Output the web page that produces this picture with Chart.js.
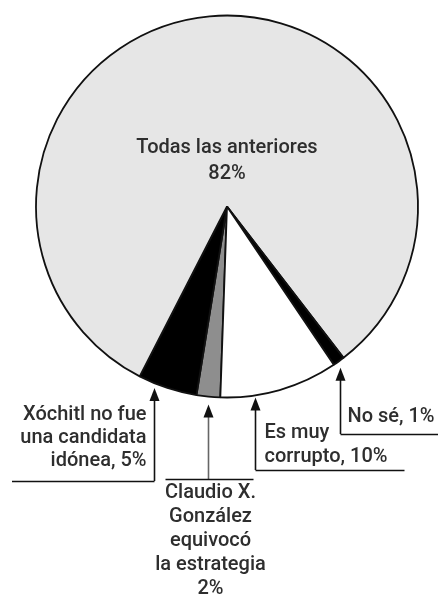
<!DOCTYPE html>
<html>
<head>
<meta charset="utf-8">
<script src="https://cdn.jsdelivr.net/npm/chart.js@4.4.1/dist/chart.umd.min.js"></script>
<style>
  html, body { margin: 0; padding: 0; background: #ffffff; }
  #wrap { width: 438px; height: 598px; }
</style>
</head>
<body>
<div id="wrap"><canvas id="c" width="438" height="598"></canvas></div>
<script>
// ---- data ----
const categories = [
  "Claudio X. González equivocó la estrategia",
  "Xóchitl no fue una candidata idónea",
  "Todas las anteriores",
  "No sé",
  "Es muy corrupto"
];
const values = [2, 5, 82, 1, 10];
const labelLines = [
  ["Claudio X.", "González", "equivocó", "la estrategia", "2%"],
  ["Xóchitl no fue", "una candidata", "idónea, 5%"],
  ["Todas las anteriores", "82%"],
  ["No sé, 1%"],
  ["Es muy", "corrupto, 10%"]
];
const sliceColors = ["#8e8e8e", "#000000", "#e6e6e6", "#000000", "#ffffff"];

// ---- annotation layout (styles / positions) ----
const FONT = '500 20px Roboto, "Liberation Sans", Arial, sans-serif';
const TEXT = '#2e2e2e';
const callouts = {
  0: { frac: 0.5,  gap: 8, lineY: 479, hx0: -43, hx1: 45, align: 'center', tx: 2, ty0: 493, lh: 24, stroke: '#666666' },
  1: { frac: 0.74, gap: 5, lineY: 481, hx0: 'left', hx1: 0, align: 'right', tx: -8, ty0: 415, lh: 23, stroke: '#111111' },
  3: { frac: 0.4,  gap: 7, lineY: 434, hx0: 0, hx1: 'right', align: 'left', tx: 7, ty0: 417, lh: 23, stroke: '#111111' },
  4: { frac: 0.71, gap: 2, lineY: 470, hx0: 0, hx1: 149, align: 'left', tx: 9, ty0: 433, lh: 24, stroke: '#111111' }
};

const annotPlugin = {
  id: 'annot',
  afterDraw(chart) {
    const ctx = chart.ctx;
    const meta = chart.getDatasetMeta(0);
    ctx.save();
    ctx.font = FONT;
    ctx.fillStyle = TEXT;
    ctx.textBaseline = 'middle';

    // centre label of the big slice
    const big = meta.data[2];
    ctx.textAlign = 'center';
    labelLines[2].forEach((t, k) => {
      ctx.fillText(t, big.x, big.y - 59 + k * 26);
    });

    Object.keys(callouts).forEach(key => {
      const i = +key;
      const c = callouts[i];
      const arc = meta.data[i];
      const a = arc.startAngle + (arc.endAngle - arc.startAngle) * c.frac;
      const r = arc.outerRadius;
      const ax = Math.round(arc.x + r * Math.cos(a)) + 0.5;
      const tipY = arc.y + r * Math.sin(a) + c.gap;

      ctx.strokeStyle = c.stroke;
      ctx.lineWidth = 1.6;
      // vertical line
      ctx.beginPath();
      ctx.moveTo(ax, tipY + 8);
      ctx.lineTo(ax, c.lineY);
      ctx.stroke();
      // arrow head
      ctx.fillStyle = '#111111';
      ctx.beginPath();
      ctx.moveTo(ax, tipY);
      ctx.lineTo(ax - 5, tipY + 13);
      ctx.lineTo(ax + 5, tipY + 13);
      ctx.closePath();
      ctx.fill();
      // horizontal line
      const x0 = c.hx0 === 'left' ? 12 : ax + c.hx0;
      const x1 = c.hx1 === 'right' ? chart.width : ax + c.hx1;
      ctx.strokeStyle = '#111111';
      ctx.beginPath();
      ctx.moveTo(x0, c.lineY + 0.5);
      ctx.lineTo(x1, c.lineY + 0.5);
      ctx.stroke();

      // text
      ctx.fillStyle = TEXT;
      ctx.textAlign = c.align;
      labelLines[i].forEach((t, k) => {
        ctx.fillText(t, ax + c.tx, c.ty0 + k * c.lh);
      });
    });
    ctx.restore();
  }
};

new Chart(document.getElementById('c'), {
  type: 'pie',
  data: {
    labels: categories,
    datasets: [{
      data: values,
      backgroundColor: sliceColors,
      borderColor: '#111111',
      borderWidth: 1.8
    }]
  },
  options: {
    responsive: false,
    animation: false,
    rotation: 182,
    radius: 191,
    layout: { padding: { left: 16, right: 0, top: 1, bottom: 186 } },
    plugins: {
      legend: { display: false },
      tooltip: { enabled: false }
    }
  },
  plugins: [annotPlugin]
});
</script>
</body>
</html>
